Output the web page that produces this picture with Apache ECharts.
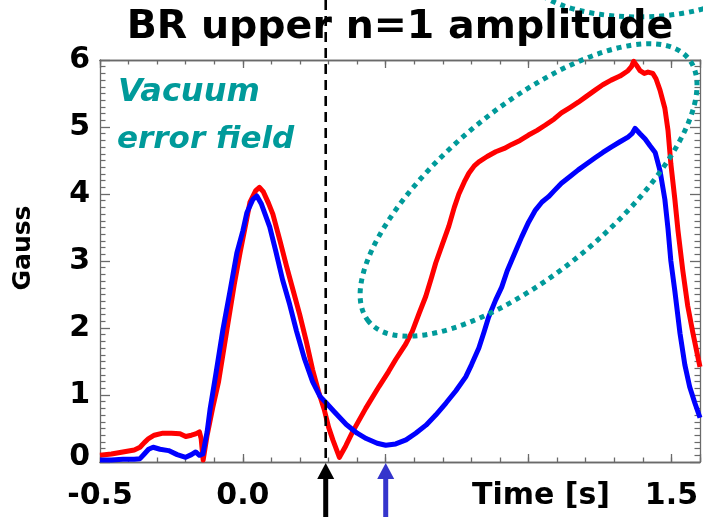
<!DOCTYPE html>
<html>
<head>
<meta charset="utf-8">
<script src="https://cdn.jsdelivr.net/npm/echarts@6/dist/echarts.min.js"></script>
<style>
  html, body { margin: 0; padding: 0; background: #ffffff; }
  #chart { width: 703px; height: 517px; }
</style>
</head>
<body>
<div id="chart"></div>
<script>
// BR upper n=1 amplitude (Gauss) versus time (s)
const redTime = [-0.50, -0.46, -0.42, -0.38, -0.36, -0.345, -0.33, -0.31, -0.28, -0.25, -0.22, -0.20, -0.18, -0.165, -0.152, -0.146, -0.139, -0.125, -0.105, -0.085, -0.056, -0.03, -0.01, 0.01, 0.025, 0.045, 0.058, 0.072, 0.09, 0.105, 0.13, 0.153, 0.176, 0.199, 0.222, 0.244, 0.265, 0.285, 0.30, 0.315, 0.338, 0.36, 0.384, 0.43, 0.477, 0.51, 0.535, 0.57, 0.593, 0.617, 0.64, 0.66, 0.675, 0.70, 0.721, 0.74, 0.756, 0.775, 0.791, 0.81, 0.826, 0.855, 0.885, 0.915, 0.941, 0.97, 1.0, 1.03, 1.059, 1.09, 1.115, 1.145, 1.174, 1.20, 1.233, 1.26, 1.289, 1.32, 1.348, 1.36, 1.368, 1.378, 1.39, 1.405, 1.418, 1.435, 1.446, 1.46, 1.477, 1.488, 1.498, 1.512, 1.523, 1.54, 1.557, 1.575, 1.592, 1.60];
const redGauss = [0.10, 0.12, 0.15, 0.18, 0.22, 0.29, 0.35, 0.40, 0.43, 0.43, 0.42, 0.38, 0.40, 0.42, 0.45, 0.35, 0.03, 0.40, 0.82, 1.20, 1.97, 2.65, 3.12, 3.55, 3.88, 4.05, 4.10, 4.03, 3.86, 3.70, 3.30, 2.92, 2.56, 2.20, 1.80, 1.38, 1.05, 0.78, 0.52, 0.33, 0.07, 0.24, 0.45, 0.80, 1.13, 1.35, 1.53, 1.76, 1.95, 2.22, 2.47, 2.75, 2.97, 3.27, 3.52, 3.80, 4.00, 4.18, 4.31, 4.42, 4.48, 4.56, 4.63, 4.68, 4.74, 4.80, 4.88, 4.95, 5.03, 5.12, 5.21, 5.29, 5.37, 5.45, 5.55, 5.63, 5.70, 5.76, 5.84, 5.90, 5.98, 5.92, 5.84, 5.80, 5.82, 5.80, 5.72, 5.55, 5.28, 4.95, 4.45, 3.92, 3.45, 2.85, 2.33, 1.93, 1.58, 1.42];

const blueTime = [-0.50, -0.46, -0.42, -0.38, -0.36, -0.345, -0.33, -0.314, -0.29, -0.26, -0.23, -0.20, -0.18, -0.165, -0.152, -0.14, -0.125, -0.115, -0.095, -0.07, -0.045, -0.021, 0.0, 0.014, 0.035, 0.049, 0.065, 0.094, 0.115, 0.139, 0.164, 0.188, 0.215, 0.244, 0.27, 0.292, 0.32, 0.362, 0.40, 0.432, 0.47, 0.50, 0.535, 0.571, 0.605, 0.641, 0.675, 0.711, 0.745, 0.78, 0.80, 0.826, 0.845, 0.86, 0.885, 0.906, 0.925, 0.941, 0.96, 0.976, 1.0, 1.024, 1.047, 1.07, 1.09, 1.115, 1.145, 1.174, 1.20, 1.233, 1.26, 1.289, 1.32, 1.348, 1.362, 1.373, 1.39, 1.408, 1.425, 1.443, 1.46, 1.477, 1.488, 1.498, 1.512, 1.53, 1.547, 1.564, 1.582, 1.60];
const blueGauss = [0.03, 0.03, 0.04, 0.04, 0.05, 0.12, 0.19, 0.22, 0.19, 0.17, 0.11, 0.07, 0.11, 0.15, 0.10, 0.12, 0.45, 0.78, 1.30, 1.97, 2.55, 3.12, 3.45, 3.72, 3.92, 3.97, 3.85, 3.51, 3.15, 2.72, 2.35, 1.95, 1.55, 1.20, 0.98, 0.88, 0.75, 0.56, 0.43, 0.35, 0.28, 0.25, 0.27, 0.33, 0.43, 0.55, 0.70, 0.88, 1.06, 1.27, 1.45, 1.70, 1.95, 2.16, 2.42, 2.61, 2.85, 3.01, 3.20, 3.36, 3.58, 3.76, 3.88, 3.96, 4.05, 4.16, 4.26, 4.36, 4.44, 4.54, 4.62, 4.70, 4.78, 4.85, 4.90, 4.98, 4.90, 4.82, 4.72, 4.62, 4.35, 3.92, 3.48, 3.00, 2.55, 1.92, 1.45, 1.12, 0.88, 0.66];

// labelled x ticks; the remaining major ticks stay blank
const xLabelValues = [-0.5, 0, 1.5];
const xLabelTexts = ['-0.5', '0.0', '1.5'];

// event times marked by the dashed line and the arrows
const dashedTime = 0.29;
const blackArrowTime = 0.29;
const blueArrowTime = 0.5;

// ellipse annotations, centres in data units (time, Gauss)
const fieldEllipseCentre = [1.0, 4.06];
const upperEllipseCentre = [1.383, 7.27];

const FONT = 'DejaVu Sans';
const TEAL = '#009a9a';
const AXIS_GRAY = '#6a6a6a';

const toPairs = (xs, ys) => xs.map((x, i) => [x, ys[i]]);

const chart = echarts.init(document.getElementById('chart'), null, { renderer: 'canvas' });

function xAxisCfg(position, interval, tickLen, withLabels) {
  return {
    type: 'value', position: position, min: -0.5, max: 1.6, interval: interval,
    axisLine: { show: true, onZero: false, lineStyle: { color: AXIS_GRAY, width: 1.3 } },
    axisTick: { show: true, inside: true, length: tickLen, lineStyle: { color: AXIS_GRAY, width: 1.3 } },
    splitLine: { show: false },
    axisLabel: withLabels ? {
      show: true, margin: 19, color: '#000', fontFamily: FONT, fontWeight: 'bold', fontSize: 30,
      formatter: function (v) {
        for (let i = 0; i < xLabelValues.length; i++) {
          if (Math.abs(v - xLabelValues[i]) < 1e-6) return xLabelTexts[i];
        }
        return '';
      }
    } : { show: false }
  };
}

function yAxisCfg(position, withLabels) {
  return {
    type: 'value', position: position, min: 0, max: 6, interval: 1,
    axisLine: { show: true, onZero: false, lineStyle: { color: AXIS_GRAY, width: 1.3 } },
    axisTick: { show: true, inside: true, length: 10, lineStyle: { color: AXIS_GRAY, width: 1.3 } },
    minorTick: { show: true, splitNumber: 10, length: 5.5, lineStyle: { color: AXIS_GRAY, width: 1.2 } },
    splitLine: { show: false },
    minorSplitLine: { show: false },
    axisLabel: withLabels ? {
      show: true, margin: 10, color: '#000', fontFamily: FONT, fontWeight: 'bold', fontSize: 30,
      // the zero label sits a little above the bottom frame
      formatter: function (v) { return v === 0 ? '{zero|0}' : String(v); },
      rich: { zero: { fontFamily: FONT, fontWeight: 'bold', fontSize: 30, color: '#000', padding: [0, 0, 10, 0] } }
    } : { show: false }
  };
}

chart.setOption({
  animation: false,
  backgroundColor: '#ffffff',
  grid: { left: 100, right: 1, top: 60, bottom: 55, containLabel: false },
  xAxis: [
    xAxisCfg('bottom', 0.5, 8, true),
    xAxisCfg('bottom', 0.1, 4.5, false),
    xAxisCfg('top', 0.5, 8, false),
    xAxisCfg('top', 0.1, 4.5, false)
  ],
  yAxis: [yAxisCfg('left', true), yAxisCfg('right', false)],
  series: [
    {
      name: 'red', type: 'line', xAxisIndex: 0, yAxisIndex: 0,
      data: toPairs(redTime, redGauss), showSymbol: false, smooth: false, clip: true,
      lineStyle: { color: '#ff0000', width: 5, join: 'round' }, z: 3
    },
    {
      name: 'blue', type: 'line', xAxisIndex: 0, yAxisIndex: 0,
      data: toPairs(blueTime, blueGauss), showSymbol: false, smooth: false, clip: true,
      lineStyle: { color: '#0000ff', width: 5, join: 'round' }, z: 4
    }
  ]
});

// annotations placed from the data scale
const px = (t, g) => chart.convertToPixel({ xAxisIndex: 0, yAxisIndex: 0 }, [t, g]);
const gridLeftPx = px(-0.5, 0)[0];
const gridRightPx = px(1.6, 0)[0];
const axisBottomPx = px(0, 0)[1];
const dashX = px(dashedTime, 0)[0];
const blackX = px(blackArrowTime, 0)[0];
const blueX = px(blueArrowTime, 0)[0];
const fieldC = px(fieldEllipseCentre[0], fieldEllipseCentre[1]);
const upperC = px(upperEllipseCentre[0], upperEllipseCentre[1]);

function arrow(x, color) {
  return [
    { type: 'polygon', z: 50, shape: { points: [[x, axisBottomPx + 1], [x - 8.5, axisBottomPx + 17], [x + 8.5, axisBottomPx + 17]] }, style: { fill: color } },
    { type: 'rect', z: 50, shape: { x: x - 2.5, y: axisBottomPx + 15, width: 5, height: 60 }, style: { fill: color } }
  ];
}

const dotted = { fill: null, stroke: TEAL, lineWidth: 5, lineDash: [5, 5] };

chart.setOption({
  graphic: [
    {
      type: 'text', z: 40, x: (gridLeftPx + gridRightPx) / 2, y: 28,
      style: { text: 'BR upper n=1 amplitude', fill: '#000', fontFamily: FONT, fontWeight: 'bold', fontSize: 39.5, align: 'center', verticalAlign: 'middle' }
    },
    {
      type: 'text', z: 40, x: 23, y: 248, rotation: Math.PI / 2,
      style: { text: 'Gauss', fill: '#000', fontFamily: FONT, fontWeight: 'bold', fontSize: 25, align: 'center', verticalAlign: 'middle' }
    },
    {
      type: 'text', z: 40, x: 541, y: 496,
      style: { text: 'Time [s]', fill: '#000', fontFamily: FONT, fontWeight: 'bold', fontSize: 30, align: 'center', verticalAlign: 'middle' }
    },
    {
      type: 'text', z: 40, x: 118, y: 93,
      style: { text: 'Vacuum', fill: TEAL, fontFamily: FONT, fontWeight: 'bold', fontStyle: 'italic', fontSize: 32, align: 'left', verticalAlign: 'middle' }
    },
    {
      type: 'text', z: 40, x: 117, y: 140,
      style: { text: 'error field', fill: TEAL, fontFamily: FONT, fontWeight: 'bold', fontStyle: 'italic', fontSize: 31, align: 'left', verticalAlign: 'middle' }
    },
    {
      type: 'line', z: 45,
      shape: { x1: dashX, y1: 0, x2: dashX, y2: axisBottomPx },
      style: { stroke: '#000', lineWidth: 2.6, lineDash: [10, 6] }
    },
    {
      type: 'ellipse', z: 30, x: fieldC[0], y: fieldC[1], rotation: 39.4 * Math.PI / 180,
      shape: { cx: 0, cy: 0, rx: 207, ry: 83 }, style: dotted
    },
    {
      type: 'ellipse', z: 30, x: upperC[0], y: upperC[1],
      shape: { cx: 0, cy: 0, rx: 110, ry: 42 }, style: dotted
    }
  ].concat(arrow(blackX, '#000000'), arrow(blueX, '#3535cc'))
});
</script>
</body>
</html>
